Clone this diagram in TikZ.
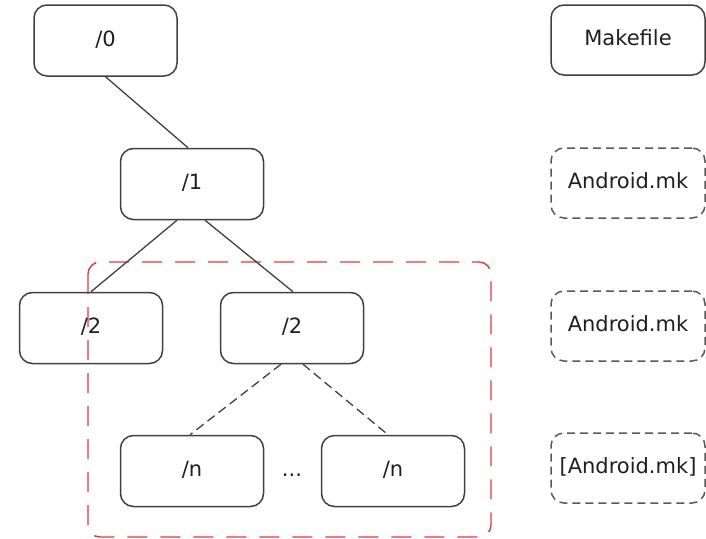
\documentclass[tikz,border=0pt]{standalone}
\usepackage{fontspec}
\setmainfont{DejaVu Sans}
\definecolor{groupred}{RGB}{238,52,52}
\begin{document}
\begin{tikzpicture}[x=1pt,y=-1pt,
  dirbox/.style={draw=black!75, line width=1.5pt, rounded corners=13pt,
    minimum width=143pt, minimum height=71pt, inner sep=0pt,
    text=black!88, font=\fontsize{21}{25}\selectfont,
    text height=15.5pt, text depth=4pt},
  filebox/.style={dirbox, minimum width=154pt, minimum height=70pt},
  optbox/.style={filebox, draw=black!65, dash pattern=on 8pt off 5pt},
  treeline/.style={draw=black!75, line width=1.3pt},
  optline/.style={treeline, dash pattern=on 9pt off 5pt},
  scope box/.style={draw=groupred, line width=1.4pt, rounded corners=12pt,
    dash pattern=on 20pt off 13pt}]
\useasboundingbox (0,0) rectangle (706,538);

% red group around the descendants of the second /2
\draw[scope box] (88,262) rectangle (491,537);

% directory tree
\node[dirbox] (d0)  at (105.5,40.5) {/0};
\node[dirbox] (d1)  at (192,184)    {/1};
\node[dirbox] (d2a) at (91,328)     {/2};
\node[dirbox] (d2b) at (292,328)    {/2};
\node[dirbox] (dna) at (192,471)    {/n};
\node[dirbox] (dnb) at (393,471)    {/n};
\node[text=black!88, font=\fontsize{21}{25}\selectfont,
  text height=15.5pt, text depth=4pt, inner sep=0pt] (dots) at (292,471) {...};

\draw[treeline] (d0.south) -- ([xshift=-4pt]d1.north);
\draw[treeline] ([xshift=-15pt]d1.south) -- (d2a.north);
\draw[treeline] ([xshift=13pt]d1.south) -- ([xshift=1pt]d2b.north);
\draw[optline] ([xshift=-11pt]d2b.south) -- ([xshift=-2pt]dna.north);
\draw[optline] ([xshift=11pt]d2b.south) -- ([xshift=-5pt]dnb.north);

% build files at each level
\node[filebox] (mk)  at (628,40)  {Makefile};
\node[optbox]  (am1) at (628,183) {Android.mk};
\node[optbox]  (am2) at (628,326) {Android.mk};
\node[optbox]  (am3) at (628,468) {[Android.mk]};
\end{tikzpicture}
\end{document}
